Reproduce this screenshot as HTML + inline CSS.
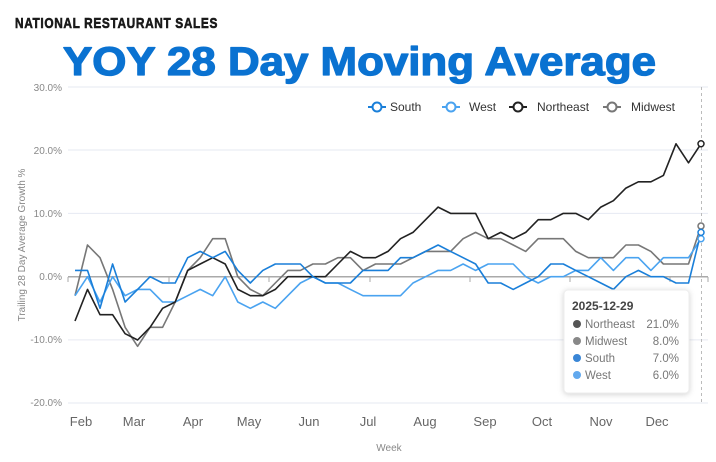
<!DOCTYPE html>
<html><head><meta charset="utf-8"><style>
html,body{margin:0;padding:0;background:#fff;}
svg{display:block;font-family:"Liberation Sans",sans-serif;}
</style></head><body>
<svg width="716" height="462" viewBox="0 0 716 462" xmlns="http://www.w3.org/2000/svg">
<rect width="716" height="462" fill="#fff"/>
<text x="15" y="28" font-size="15" font-weight="bold" fill="#1a1a1a" stroke="#1a1a1a" stroke-width="0.6" letter-spacing="0.8" textLength="203" lengthAdjust="spacingAndGlyphs">NATIONAL RESTAURANT SALES</text>
<text x="63" y="75" font-size="40" font-weight="bold" fill="#0a72d1" stroke="#0a72d1" stroke-width="1.3" stroke-linejoin="round" textLength="593" lengthAdjust="spacingAndGlyphs">YOY 28 Day Moving Average</text>
<g stroke="#e6e9f2" stroke-width="1">
<line x1="68" x2="708" y1="87" y2="87"/><line x1="68" x2="708" y1="150" y2="150"/>
<line x1="68" x2="708" y1="213.4" y2="213.4"/><line x1="68" x2="708" y1="339.9" y2="339.9"/>
<line x1="68" x2="708" y1="403" y2="403"/>
</g>
<line x1="68" x2="708" y1="276.7" y2="276.7" stroke="#aaa" stroke-width="1.5"/>
<g stroke="#aaa" stroke-width="1">
<line x1="68" x2="68" y1="277" y2="282"/><line x1="169" x2="169" y1="277" y2="282"/><line x1="269" x2="269" y1="277" y2="282"/><line x1="370" x2="370" y1="277" y2="282"/><line x1="470" x2="470" y1="277" y2="282"/><line x1="570" x2="570" y1="277" y2="282"/><line x1="670" x2="670" y1="277" y2="282"/><line x1="708" x2="708" y1="277" y2="282"/>
</g>
<line x1="701.5" x2="701.5" y1="87" y2="403" stroke="#bbb" stroke-dasharray="3,3"/>
<g font-size="10" fill="#888" text-anchor="end">
<text x="62" y="91">30.0%</text><text x="62" y="154">20.0%</text><text x="62" y="217">10.0%</text><text x="62" y="280">0.0%</text><text x="62" y="343">-10.0%</text><text x="62" y="406">-20.0%</text>
</g>
<text transform="translate(25,245) rotate(-90)" font-size="10" fill="#888" text-anchor="middle">Trailing 28 Day Average Growth %</text>
<g font-size="13" fill="#666" text-anchor="middle">
<text x="81" y="426">Feb</text><text x="134" y="426">Mar</text><text x="193" y="426">Apr</text><text x="249" y="426">May</text><text x="309" y="426">Jun</text><text x="368" y="426">Jul</text><text x="425" y="426">Aug</text><text x="485" y="426">Sep</text><text x="542" y="426">Oct</text><text x="601" y="426">Nov</text><text x="657" y="426">Dec</text>
</g>
<text x="389" y="451" font-size="10" fill="#888" text-anchor="middle">Week</text>
<g id="lines" fill="none" stroke-width="1.6" stroke-linejoin="round"></g>
<g font-size="12" fill="#333">
<line x1="368" x2="386" y1="107" y2="107" stroke="#1a7fd9" stroke-width="2"/><circle cx="377" cy="107" r="4.5" fill="#fff" stroke="#1a7fd9" stroke-width="2"/><text x="390" y="111">South</text>
<line x1="442" x2="460" y1="107" y2="107" stroke="#4aa3f0" stroke-width="2"/><circle cx="451" cy="107" r="4.5" fill="#fff" stroke="#4aa3f0" stroke-width="2"/><text x="469" y="111">West</text>
<line x1="509" x2="527" y1="107" y2="107" stroke="#222" stroke-width="2"/><circle cx="518" cy="107" r="4.5" fill="#fff" stroke="#222" stroke-width="2"/><text x="537" y="111">Northeast</text>
<line x1="603" x2="621" y1="107" y2="107" stroke="#777" stroke-width="2"/><circle cx="612" cy="107" r="4.5" fill="#fff" stroke="#777" stroke-width="2"/><text x="631" y="111">Midwest</text>
</g>
<rect x="564" y="290" width="125" height="103" rx="4" fill="#fff" stroke="#eee" style="filter:drop-shadow(0 1px 3px rgba(0,0,0,0.18))"/>
<text x="572" y="310" font-size="12" font-weight="bold" fill="#444">2025-12-29</text>
<g font-size="11.5" fill="#777">
<circle cx="577" cy="324" r="4" fill="#555"/><text x="585" y="328">Northeast</text><text x="679" y="328" text-anchor="end">21.0%</text>
<circle cx="577" cy="341" r="4" fill="#888"/><text x="585" y="345">Midwest</text><text x="679" y="345" text-anchor="end">8.0%</text>
<circle cx="577" cy="358" r="4" fill="#3a86d6"/><text x="585" y="362">South</text><text x="679" y="362" text-anchor="end">7.0%</text>
<circle cx="577" cy="375" r="4" fill="#62a9ee"/><text x="585" y="379">West</text><text x="679" y="379" text-anchor="end">6.0%</text>
</g>
<g id="marks"></g>
<script>
var S={
mw:["#777",[-3,5,3,-2,-8,-11,-8,-8,-4,1,3,6,6,0,-2,-3,-1,1,1,2,2,3,3,1,2,2,2,3,4,4,4,6,7,6,6,5,4,6,6,6,4,3,3,3,5,5,4,2,2,2,8]],
w:["#4aa3f0",[-3,0,-4,0,-3,-2,-2,-4,-4,-3,-2,-3,0,-4,-5,-4,-5,-3,-1,0,-1,-1,-2,-3,-3,-3,-3,-1,0,1,1,2,1,2,2,2,0,-1,0,0,1,1,3,1,3,3,1,3,3,3,6]],
ne:["#222",[-7,-2,-6,-6,-9,-10,-8,-5,-4,1,2,3,2,-2,-3,-3,-2,0,0,0,0,2,4,3,3,4,6,7,9,11,10,10,10,6,7,6,7,9,9,10,10,9,11,12,14,15,15,16,21,18,21]],
s:["#1a7fd9",[1,1,-5,2,-4,-2,0,-1,-1,3,4,3,4,1,-1,1,2,2,2,0,-1,-1,-1,1,1,1,3,3,4,5,4,3,2,-1,-1,-2,-1,0,2,2,1,0,-1,-2,0,1,0,0,-1,-1,7]]};
var ns="http://www.w3.org/2000/svg",L=document.getElementById("lines"),M=document.getElementById("marks");
["mw","w","ne","s"].forEach(function(k){var c=S[k][0],d=S[k][1],p="";
d.forEach(function(v,i){p+=(i?"L":"M")+(75+i*12.52).toFixed(1)+","+(276.7-6.33*v).toFixed(1);});
var e=document.createElementNS(ns,"path");e.setAttribute("d",p);e.setAttribute("stroke",c);L.appendChild(e);
var ci=document.createElementNS(ns,"circle");ci.setAttribute("cx",701);ci.setAttribute("cy",276.7-6.33*d[d.length-1]);ci.setAttribute("r",3);ci.setAttribute("fill","#fff");ci.setAttribute("stroke",c);ci.setAttribute("stroke-width",1.5);M.appendChild(ci);});
</script>
</svg>
</body></html>
